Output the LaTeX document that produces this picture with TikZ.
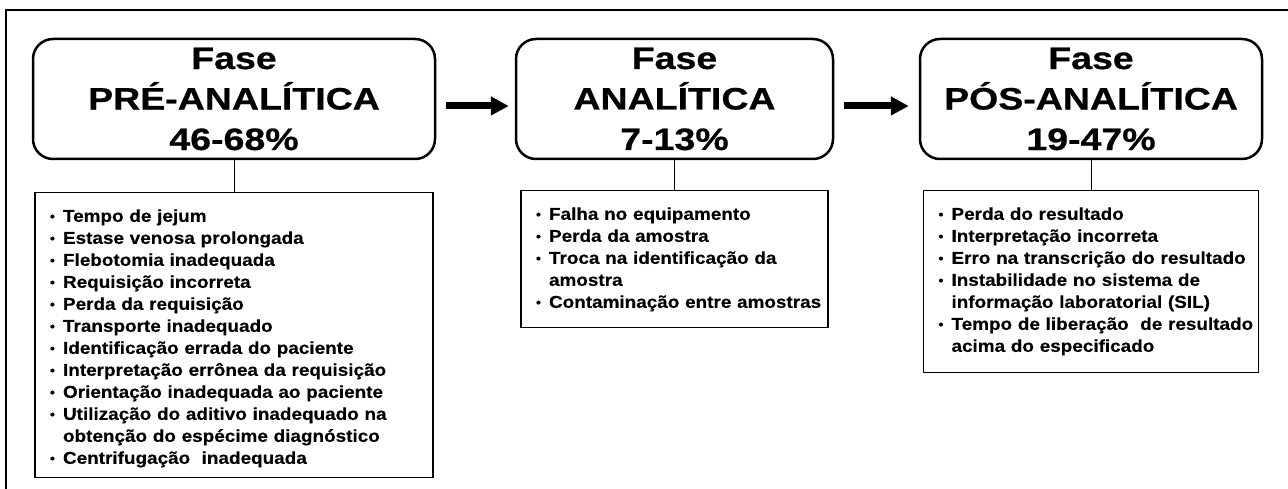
\documentclass[tikz,border=0pt]{standalone}
\usepackage{fontspec}
\usepackage{graphicx}
\setmainfont{Liberation Sans}
\newfontfamily\titlefont[FakeStretch=1.21,FakeBold=0.6]{Liberation Sans}
\newfontfamily\listfont[FakeStretch=1.1,FakeBold=0.3]{Liberation Sans}
\usetikzlibrary{positioning,arrows.meta}

% item with bullet, and continuation line
\newcommand{\itm}[1]{\par\noindent\strut
  \makebox[13pt][l]{\raisebox{1pt}{\scalebox{.75}{\textbullet}}}\mbox{#1}}
\newcommand{\itmx}[1]{\par\noindent\strut\hspace*{13pt}\mbox{#1}}

\begin{document}
\begin{tikzpicture}[x=1pt,y=-1pt,
    fase/.style={draw, line width=2.5pt, rounded corners=20pt,
      minimum height=120pt, align=center, inner sep=0pt,
      font=\titlefont\fontsize{31}{40.5}\selectfont\bfseries},
    lista/.style={draw, line width=1.2pt, inner xsep=15pt, inner ysep=7pt,
      font=\listfont\fontsize{17.2}{22}\selectfont\bfseries},
    >={Triangle[length=18pt,width=18pt]}]

  \useasboundingbox (0,0) rectangle (1288,489);
  \clip (0,0) rectangle (1288,489);
  \draw[line width=2pt] (6,10) rectangle (1320,520);

  \node[fase, minimum width=402pt] (pre) at (234,99) {Fase\\PRÉ-ANALÍTICA\\46-68\%};
  \node[fase, minimum width=317pt] (ana) at (674.5,99) {Fase\\ANALÍTICA\\7-13\%};
  \node[fase, minimum width=342pt] (pos) at (1091,99) {Fase\\PÓS-ANALÍTICA\\19-47\%};

  \draw[->, line width=7pt, shorten <=10pt, shorten >=6pt]
    ([yshift=-7pt]pre.east) -- ([yshift=-7pt]ana.west);
  \draw[->, line width=7pt, shorten <=10pt, shorten >=10pt]
    ([yshift=-7pt]ana.east) -- ([yshift=-7pt]pos.west);

  \node[lista, text width=368pt, below=32pt of pre] (lpre) {%
    \itm{Tempo de jejum}
    \itm{Estase venosa prolongada}
    \itm{Flebotomia inadequada}
    \itm{Requisição incorreta}
    \itm{Perda da requisição}
    \itm{Transporte inadequado}
    \itm{Identificação errada do paciente}
    \itm{Interpretação errônea da requisição}
    \itm{Orientação inadequada ao paciente}
    \itm{Utilização do aditivo inadequado na}
    \itmx{obtenção do espécime diagnóstico}
    \itm{Centrifugação~ inadequada}};
  \node[lista, text width=277pt, below=30pt of ana] (lana) {%
    \itm{Falha no equipamento}
    \itm{Perda da amostra}
    \itm{Troca na identificação da}
    \itmx{amostra}
    \itm{Contaminação entre amostras\rule[-12.5pt]{0pt}{0pt}}};
  \node[lista, text width=305pt, below=30pt of pos] (lpos) {%
    \itm{Perda do resultado}
    \itm{Interpretação incorreta}
    \itm{Erro na transcrição do resultado}
    \itm{Instabilidade no sistema de}
    \itmx{informação laboratorial (SIL)}
    \itm{Tempo de liberação~ de resultado}
    \itmx{acima do especificado\rule[-14pt]{0pt}{0pt}}};

  \draw[line width=0.8pt] (pre.south) -- (lpre.north);
  \draw[line width=0.8pt] (ana.south) -- (lana.north);
  \draw[line width=0.8pt] (pos.south) -- (lpos.north);
\end{tikzpicture}
\end{document}
